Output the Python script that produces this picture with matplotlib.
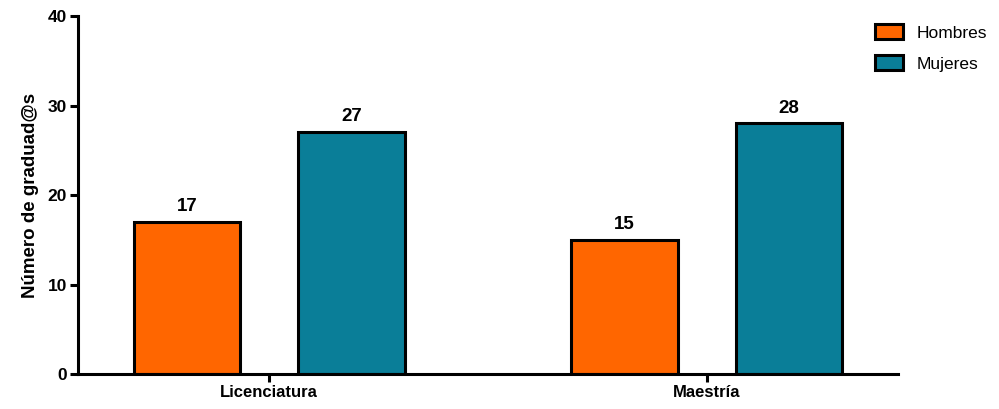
import matplotlib.pyplot as plt
import numpy as np

plt.rcParams['font.family'] = ['Liberation Sans', 'DejaVu Sans']

categorias = ['Licenciatura', 'Maestría']
hombres = [17, 15]
mujeres = [27, 28]
yticks = [0, 10, 20, 30, 40]

col_h = '#FF6600'
col_m = '#0A7E98'

fig = plt.figure(figsize=(9.99, 4.09), dpi=100)
ax = fig.add_axes([0.078, 0.0856, 0.821, 0.875])

x = np.arange(len(categorias))
w = 0.243
off = 0.188
b1 = ax.bar(x - off, hombres, w, color=col_h, edgecolor='black', linewidth=2.2, label='Hombres')
b2 = ax.bar(x + off, mujeres, w, color=col_m, edgecolor='black', linewidth=2.2, label='Mujeres')
for b in (b1, b2):
    ax.bar_label(b, padding=5, fontsize=13.5, fontweight='bold')

ax.set_xlim(-0.437, 1.437)
ax.set_ylim(0, 40)
ax.set_yticks(yticks)
ax.set_xticks(x)
ax.set_xticklabels(categorias, fontsize=12, fontweight='bold')
for lab in ax.get_yticklabels():
    lab.set_fontweight('bold')
    lab.set_fontsize(12.5)
ax.tick_params(axis='both', width=2.2, length=6, pad=2)
ax.set_ylabel('Número de graduad@s', fontsize=13.5, fontweight='bold', labelpad=6)

for s in ['top', 'right']:
    ax.spines[s].set_visible(False)
for s in ['left', 'bottom']:
    ax.spines[s].set_linewidth(2.2)

fig.legend(loc='upper left', bbox_to_anchor=(0.867, 0.962), frameon=False, borderpad=0,
           fontsize=12.5, handlelength=1.6, handleheight=0.95, handletextpad=0.8,
           labelspacing=0.85)

fig.savefig('out.png', dpi=100)
